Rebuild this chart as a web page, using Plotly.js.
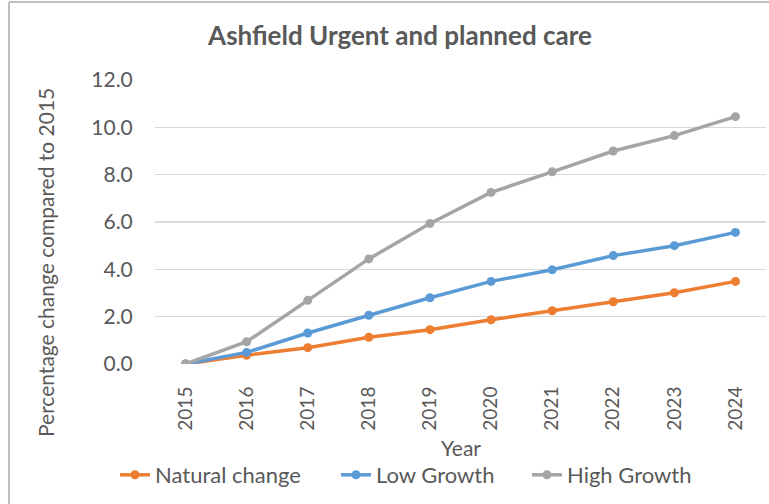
<!DOCTYPE html>
<html>
<head>
<meta charset="utf-8">
<script src="https://cdn.plot.ly/plotly-3.0.1.min.js"></script>
<style>html,body{margin:0;padding:0;background:#fff;}#chart{width:769px;height:504px;}</style>
</head>
<body>
<div id="chart"></div>
<script>
const years = ['2015','2016','2017','2018','2019','2020','2021','2022','2023','2024'];
const naturalChange = [0, 0.37, 0.69, 1.13, 1.45, 1.87, 2.25, 2.63, 3.01, 3.49];
const lowGrowth = [0, 0.49, 1.31, 2.06, 2.80, 3.49, 3.98, 4.58, 5.00, 5.56];
const highGrowth = [0, 0.94, 2.69, 4.44, 5.94, 7.25, 8.12, 9.00, 9.65, 10.45];
const yTicks = [0, 2, 4, 6, 8, 10, 12];

const FONT = 'Lato, "Open Sans", sans-serif';
const GREY = '#595959';

function series(name, y, color, legendId) {
  return {
    type: 'scatter', mode: 'lines+markers', name: name,
    x: years, y: y, legend: legendId,
    line: {color: color, width: 3.5},
    marker: {color: color, size: 9, symbol: 'circle'}
  };
}

const data = [
  series('Natural change', naturalChange, '#ED7D31', 'legend'),
  series('Low Growth', lowGrowth, '#5B9BD5', 'legend2'),
  series('High Growth', highGrowth, '#A5A5A5', 'legend3')
];

const L = 155, R = 3, T = 80, B = 140;
const W = 769, H = 504;
const pw = W - L - R, ph = H - T - B;
const px = v => (v - L) / pw;
const py = v => (H - B - v) / ph;

function legendAt(xPix) {
  return {
    orientation: 'h', xref: 'container', yref: 'container',
    x: xPix / W, xanchor: 'left', y: 1 - 475 / H, yanchor: 'middle',
    font: {family: FONT, size: 22, color: GREY},
    bgcolor: 'rgba(0,0,0,0)'
  };
}

const layout = {
  width: W, height: H,
  margin: {l: L, r: R, t: T, b: B},
  paper_bgcolor: '#ffffff', plot_bgcolor: '#ffffff',
  font: {family: FONT, color: GREY, size: 20},
  title: {
    text: '<b>Ashfield Urgent and planned care</b>',
    font: {family: FONT, size: 26, color: GREY},
    x: 400 / W, xref: 'container', xanchor: 'center',
    y: 1 - 36 / H, yref: 'container', yanchor: 'middle'
  },
  xaxis: {
    type: 'category', range: [-0.5, 9.5],
    tickangle: -90, showgrid: false, zeroline: false, showline: false,
    ticks: 'outside', ticklen: 14, tickcolor: 'rgba(0,0,0,0)',
    tickfont: {family: FONT, size: 19, color: GREY}
  },
  yaxis: {
    range: [0, 12], tickvals: yTicks, tickformat: '.1f',
    showgrid: true, gridcolor: '#d9d9d9', gridwidth: 1.5,
    zeroline: false, showline: false,
    ticks: 'outside', ticklen: 17, tickcolor: 'rgba(0,0,0,0)',
    tickfont: {family: FONT, size: 21, color: GREY}
  },
  showlegend: true,
  legend: legendAt(115),
  legend2: legendAt(336),
  legend3: legendAt(527),
  annotations: [
    {
      text: 'Percentage change compared to 2015',
      textangle: -90, showarrow: false,
      xref: 'paper', yref: 'paper',
      x: px(45), y: py(263), xanchor: 'center', yanchor: 'middle',
      font: {family: FONT, size: 21, color: GREY}
    },
    {
      text: 'Year', showarrow: false,
      xref: 'paper', yref: 'paper',
      x: 0.5, y: py(447), xanchor: 'center', yanchor: 'middle',
      font: {family: FONT, size: 21, color: GREY}
    }
  ],
  shapes: [
    {type: 'line', xref: 'paper', yref: 'paper', x0: px(9), x1: px(9), y0: py(510), y1: py(2),
     line: {color: '#bfbfbf', width: 2}},
    {type: 'line', xref: 'paper', yref: 'paper', x0: px(9), x1: px(775), y0: py(2), y1: py(2),
     line: {color: '#bfbfbf', width: 2}}
  ]
};

Plotly.newPlot('chart', data, layout, {displayModeBar: false, staticPlot: true});
</script>
</body>
</html>
